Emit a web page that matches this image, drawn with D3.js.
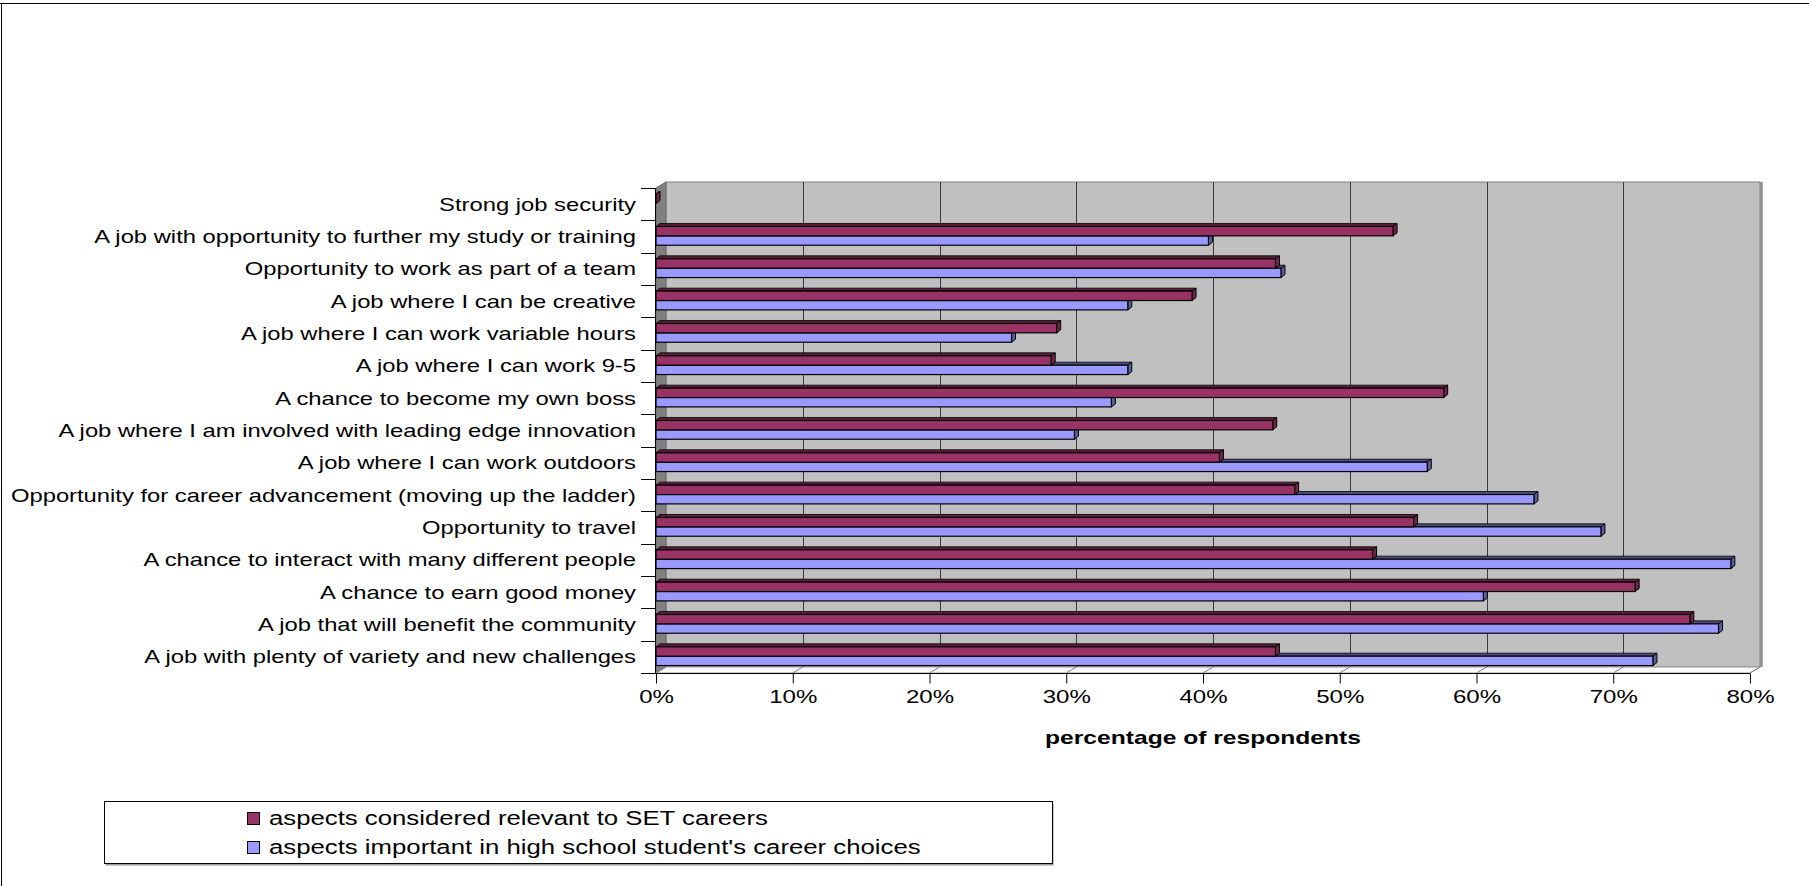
<!DOCTYPE html>
<html>
<head>
<meta charset="utf-8">
<script src="https://cdn.jsdelivr.net/npm/d3@7"></script>
<style>
  body { margin: 0; background: #fff; }
  svg { display: block; font-family: "Liberation Sans", Arial, sans-serif; }
</style>
</head>
<body>
<svg id="chart"></svg>
<script>
// Set dimensions
var width = 1809,
    height = 886;

// Categories, top to bottom as shown
var categories = [
  "Strong job security",
  "A job with opportunity to further my study or training",
  "Opportunity to work as part of a team",
  "A job where I can be creative",
  "A job where I can work variable hours",
  "A job where I can work 9-5",
  "A chance to become my own boss",
  "A job where I am involved with leading edge innovation",
  "A job where I can work outdoors",
  "Opportunity for career advancement (moving up the ladder)",
  "Opportunity to travel",
  "A chance to interact with many different people",
  "A chance to earn good money",
  "A job that will benefit the community",
  "A job with plenty of variety and new challenges"
];

// Series values (percent)
var setValues = [0, 53.9, 45.3, 39.2, 29.3, 28.9, 57.6, 45.1, 41.2, 46.7, 55.4, 52.4, 71.6, 75.6, 45.3];
var studentValues = [null, 40.4, 45.7, 34.5, 26.0, 34.5, 33.3, 30.6, 56.4, 64.2, 69.1, 78.6, 60.5, 77.7, 72.9];

var seriesNames = [
  "aspects considered relevant to SET careers",
  "aspects important in high school student's career choices"
];

var xTicks = [0, 10, 20, 30, 40, 50, 60, 70, 80];

// Colours: front, top, end cap
var colours = {
  set: { front: "#993366", top: "#5a1e3c", cap: "#6e2549" },
  student: { front: "#9999ff", top: "#4d4d80", cap: "#5c5c99" }
};

// Depth of the walls and of the bars
var wall = { dx: 10, dy: -6 };
var depth = { dx: 4, dy: -3 };

var svg = d3.select("#chart")
    .attr("width", width)
    .attr("height", height);

// Scales
var x = d3.scaleLinear()
    .domain([0, 80])
    .range([656, 1750]);

var y = d3.scaleBand()
    .domain(categories)
    .range([188, 673]);

var bw = y.bandwidth();
var ySeries = d3.scaleBand()
    .domain(["set", "student"])
    .range([bw * 0.19, bw * 0.77]);

var x0 = x(0), x1 = x(80), yTop = y.range()[0], yBot = y.range()[1];

// Stretch text horizontally like the original rendering
function stretch(k) {
  return function(sel) {
    sel.each(function() {
      var w = this.getComputedTextLength();
      d3.select(this)
          .attr("textLength", w * k)
          .attr("lengthAdjust", "spacingAndGlyphs");
    });
  };
}

// Outer frame (top and left edges visible)
svg.append("line").attr("x1", 0).attr("x2", width).attr("y1", 3.5).attr("y2", 3.5)
    .attr("stroke", "#000");
svg.append("line").attr("x1", 1.5).attr("x2", 1.5).attr("y1", 3).attr("y2", height)
    .attr("stroke", "#000");

// Back wall
svg.append("rect")
    .attr("x", x0 + wall.dx)
    .attr("y", yTop + wall.dy)
    .attr("width", x1 - x0)
    .attr("height", yBot - yTop)
    .attr("fill", "#c0c0c0")
    .attr("stroke", "#808080");

svg.append("line")
    .attr("x1", x1 + wall.dx + 1.5).attr("x2", x1 + wall.dx + 1.5)
    .attr("y1", yTop + wall.dy).attr("y2", yBot + wall.dy)
    .attr("stroke", "#8c8c8c")
    .attr("stroke-width", 2.5);

// Gridlines on back wall
svg.append("g")
    .selectAll("line")
    .data(xTicks.slice(1, -1))
    .enter()
    .append("line")
    .attr("x1", function(d) { return Math.round(x(d) + wall.dx) + 0.5; })
    .attr("x2", function(d) { return Math.round(x(d) + wall.dx) + 0.5; })
    .attr("y1", yTop + wall.dy)
    .attr("y2", yBot + wall.dy)
    .attr("stroke", "#3a3a3a");

// Side wall
svg.append("polygon")
    .attr("points", [[x0, yTop], [x0 + wall.dx, yTop + wall.dy], [x0 + wall.dx, yBot + wall.dy], [x0, yBot]].join(" "))
    .attr("fill", "#808080")
    .attr("stroke", "#6a6a6a");

// Floor
svg.append("polygon")
    .attr("points", [[x0, yBot], [x1, yBot], [x1 + wall.dx, yBot + wall.dy], [x0 + wall.dx, yBot + wall.dy]].join(" "))
    .attr("fill", "#fbfbfb")
    .attr("stroke", "#9a9a9a");

svg.append("g")
    .selectAll("line")
    .data(xTicks)
    .enter()
    .append("line")
    .attr("x1", function(d) { return x(d); })
    .attr("x2", function(d) { return x(d) + wall.dx; })
    .attr("y1", yBot)
    .attr("y2", yBot + wall.dy)
    .attr("stroke", "#808080");

// Bars
function drawBar(g, y0, h, v, c) {
  var xe = x(v);
  // top face
  g.append("polygon")
      .attr("points", [[x0, y0], [xe, y0], [xe + depth.dx, y0 + depth.dy], [x0 + depth.dx, y0 + depth.dy]].join(" "))
      .attr("fill", c.top)
      .attr("stroke", "#000")
      .attr("stroke-width", 0.8);
  // end cap
  g.append("polygon")
      .attr("points", [[xe, y0], [xe + depth.dx, y0 + depth.dy], [xe + depth.dx, y0 + h + depth.dy], [xe, y0 + h]].join(" "))
      .attr("fill", c.cap)
      .attr("stroke", "#000")
      .attr("stroke-width", 1);
  // front face
  if (v > 0) {
    g.append("rect")
        .attr("x", x0)
        .attr("y", y0)
        .attr("width", xe - x0)
        .attr("height", h)
        .attr("fill", c.front)
        .attr("stroke", "#000")
        .attr("stroke-width", 1.2);
  }
}

var bars = svg.append("g").attr("id", "bars");
var h = ySeries.bandwidth();

categories.forEach(function(cat, i) {
  var g = bars.append("g");
  // student series first, SET series drawn over it
  if (studentValues[i] != null) {
    drawBar(g, y(cat) + ySeries("student"), h, studentValues[i], colours.student);
  }
  if (setValues[i] != null) {
    drawBar(g, y(cat) + ySeries("set"), h, setValues[i], colours.set);
  }
});

// Category axis
var bounds = categories.map(function(c) { return y(c); }).concat([yBot]);

svg.append("line")
    .attr("x1", x0 - 0.5).attr("x2", x0 - 0.5)
    .attr("y1", yTop).attr("y2", yBot)
    .attr("stroke", "#000");

svg.append("g")
    .selectAll("line")
    .data(bounds)
    .enter()
    .append("line")
    .attr("x1", x0 - 15)
    .attr("x2", x0)
    .attr("y1", function(d) { return Math.round(d) + 0.5; })
    .attr("y2", function(d) { return Math.round(d) + 0.5; })
    .attr("stroke", "#000");

svg.append("g")
    .selectAll("text")
    .data(categories)
    .enter()
    .append("text")
    .attr("x", 636)
    .attr("y", function(d) { return y(d) + bw / 2; })
    .attr("dy", "0.36em")
    .attr("text-anchor", "end")
    .attr("font-size", 18.5)
    .attr("fill", "#000")
    .text(function(d) { return d; })
    .call(stretch(1.285));

// Value axis
svg.append("line")
    .attr("x1", x0 - 0.5).attr("x2", x1)
    .attr("y1", yBot + 0.5).attr("y2", yBot + 0.5)
    .attr("stroke", "#000");

var xAxis = svg.append("g")
    .attr("transform", "translate(0," + (yBot + 0.5) + ")")
    .call(d3.axisBottom(x)
        .tickValues(xTicks)
        .tickSize(10)
        .tickFormat(function(d) { return d + "%"; }));

xAxis.select(".domain").remove();
xAxis.selectAll(".tick line").attr("stroke", "#000");
xAxis.selectAll(".tick text")
    .attr("y", 16)
    .attr("dy", "0.71em")
    .attr("font-size", 18.5)
    .attr("font-family", "Liberation Sans, Arial, sans-serif")
    .attr("fill", "#000")
    .call(stretch(1.3));

svg.append("text")
    .attr("x", (x0 + x1) / 2)
    .attr("y", 744)
    .attr("text-anchor", "middle")
    .attr("font-size", 18.5)
    .attr("font-weight", "bold")
    .text("percentage of respondents")
    .call(stretch(1.33));

// Legend
var legend = svg.append("g").attr("id", "legend");

legend.append("rect")
    .attr("x", 105.5).attr("y", 803.5)
    .attr("width", 948).attr("height", 62)
    .attr("fill", "#9a9a9a");

legend.append("rect")
    .attr("x", 104.5).attr("y", 801.5)
    .attr("width", 948).attr("height", 62)
    .attr("fill", "#fff")
    .attr("stroke", "#000");

var legendRows = legend.selectAll("g.row")
    .data(seriesNames)
    .enter()
    .append("g")
    .attr("class", "row")
    .attr("transform", function(d, i) { return "translate(247," + (818 + i * 29) + ")"; });

legendRows.append("rect")
    .attr("x", 0.5).attr("y", -5.5)
    .attr("width", 12).attr("height", 12)
    .attr("fill", function(d, i) { return i === 0 ? colours.set.front : colours.student.front; })
    .attr("stroke", "#000");

legendRows.append("text")
    .attr("x", 22)
    .attr("dy", "0.36em")
    .attr("font-size", 19.5)
    .text(function(d) { return d; })
    .call(stretch(1.32));
</script>
</body>
</html>
